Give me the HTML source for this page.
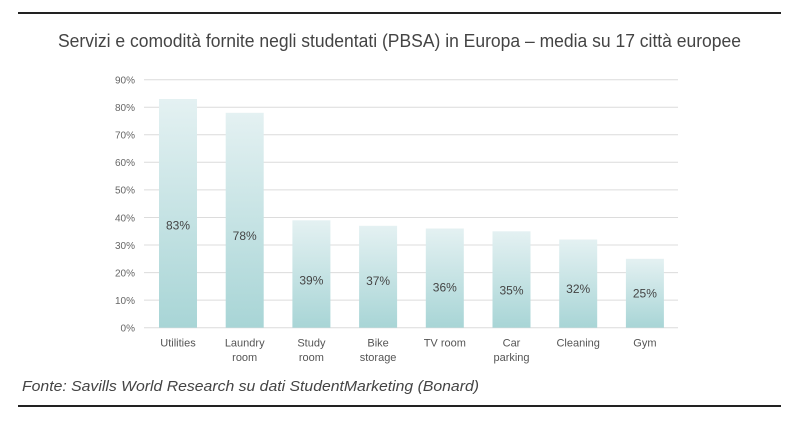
<!DOCTYPE html>
<html><head><meta charset="utf-8"><style>
html,body{margin:0;padding:0;background:#fff;}
svg{display:block;}
</style></head><body>
<svg width="800" height="422" viewBox="0 0 800 422" xmlns="http://www.w3.org/2000/svg" font-family="Liberation Sans, sans-serif">
<defs>
<linearGradient id="g" x1="0" y1="0" x2="0" y2="1">
<stop offset="0" stop-color="#e4f1f2"/>
<stop offset="1" stop-color="#a8d5d6"/>
</linearGradient>
</defs>
<line x1="18" y1="13" x2="781" y2="13" stroke="#222" stroke-width="2"/>
<text x="58" y="47" font-size="18" fill="#444" textLength="683" lengthAdjust="spacingAndGlyphs">Servizi e comodità fornite negli studentati (PBSA) in Europa – media su 17 città europee</text>
<g stroke="#dcdcdc" stroke-width="1">
<line x1="144" y1="79.7" x2="678" y2="79.7"/>
<line x1="144" y1="107.2" x2="678" y2="107.2"/>
<line x1="144" y1="134.8" x2="678" y2="134.8"/>
<line x1="144" y1="162.3" x2="678" y2="162.3"/>
<line x1="144" y1="189.9" x2="678" y2="189.9"/>
<line x1="144" y1="217.5" x2="678" y2="217.5"/>
<line x1="144" y1="245.0" x2="678" y2="245.0"/>
<line x1="144" y1="272.6" x2="678" y2="272.6"/>
<line x1="144" y1="300.1" x2="678" y2="300.1"/>
<line x1="144" y1="327.7" x2="678" y2="327.7"/>
</g>
<g font-size="10" fill="#666" text-anchor="end">
<text x="135" y="83.5">90%</text>
<text x="135" y="111">80%</text>
<text x="135" y="138.6">70%</text>
<text x="135" y="166.1">60%</text>
<text x="135" y="193.7">50%</text>
<text x="135" y="221.3">40%</text>
<text x="135" y="248.8">30%</text>
<text x="135" y="276.4">20%</text>
<text x="135" y="303.9">10%</text>
<text x="135" y="331.5">0%</text>
</g>
<g fill="url(#g)">
<rect x="159" y="99.0" width="38" height="228.7"/>
<rect x="225.7" y="112.8" width="38" height="214.9"/>
<rect x="292.4" y="220.3" width="38" height="107.4"/>
<rect x="359.1" y="225.8" width="38" height="101.9"/>
<rect x="425.8" y="228.5" width="38" height="99.2"/>
<rect x="492.5" y="231.3" width="38" height="96.4"/>
<rect x="559.2" y="239.5" width="38" height="88.2"/>
<rect x="625.9" y="258.8" width="38" height="68.9"/>
</g>
<g font-size="12" fill="#444" text-anchor="middle">
<text x="178" y="229.5">83%</text>
<text x="244.7" y="240">78%</text>
<text x="311.4" y="284.5">39%</text>
<text x="378.1" y="285">37%</text>
<text x="444.8" y="291.5">36%</text>
<text x="511.5" y="294.3">35%</text>
<text x="578.2" y="293">32%</text>
<text x="644.9" y="297.5">25%</text>
</g>
<g font-size="11" fill="#555" text-anchor="middle">
<text x="178" y="346.5">Utilities</text>
<text x="244.7" y="346.5">Laundry</text>
<text x="244.7" y="361">room</text>
<text x="311.4" y="346.5">Study</text>
<text x="311.4" y="361">room</text>
<text x="378.1" y="346.5">Bike</text>
<text x="378.1" y="361">storage</text>
<text x="444.8" y="346.5">TV room</text>
<text x="511.5" y="346.5">Car</text>
<text x="511.5" y="361">parking</text>
<text x="578.2" y="346.5">Cleaning</text>
<text x="644.9" y="346.5">Gym</text>
</g>
<text x="22" y="391" font-size="15" font-style="italic" fill="#444" textLength="457" lengthAdjust="spacingAndGlyphs">Fonte: Savills World Research su dati StudentMarketing (Bonard)</text>
<line x1="18" y1="406" x2="781" y2="406" stroke="#222" stroke-width="2"/>
</svg>
</body></html>
